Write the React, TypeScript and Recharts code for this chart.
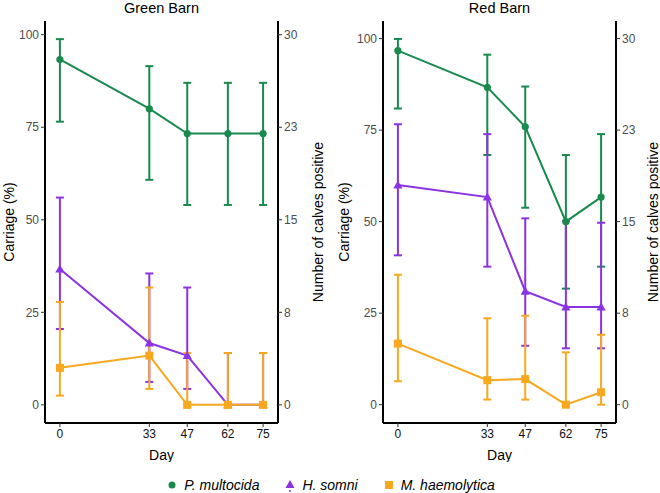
import React from 'react';
import { LineChart, Line, XAxis, YAxis, ErrorBar } from 'recharts';

const days = [0, 33, 47, 62, 75];

// Green Barn
const greenPm = [93.3, 80.0, 73.3, 73.3, 73.3];
const greenPmLow = [76.5, 60.8, 54.0, 54.0, 54.0];
const greenPmHigh = [98.8, 91.5, 87.0, 87.0, 87.0];
const greenHs = [36.7, 16.7, 13.3, 0, 0];
const greenHsLow = [20.5, 6.2, 4.3, 0, 0];
const greenHsHigh = [56.0, 35.5, 31.7, 14.0, 14.0];
const greenMh = [10.0, 13.3, 0, 0, 0];
const greenMhLow = [2.5, 4.3, 0, 0, 0];
const greenMhHigh = [27.8, 31.7, 14.0, 14.0, 14.0];

// Red Barn
const redPm = [96.7, 86.7, 75.9, 50.0, 56.7];
const redPmLow = [80.9, 68.2, 53.8, 31.7, 37.7];
const redPmHigh = [99.9, 95.6, 86.9, 68.2, 73.9];
const redHs = [60.0, 56.7, 31.0, 26.7, 26.7];
const redHsLow = [40.8, 37.7, 16.1, 15.4, 15.4];
const redHsHigh = [76.6, 73.9, 50.9, 50.1, 49.7];
const redMh = [16.7, 6.7, 7.0, 0, 3.4];
const redMhLow = [6.4, 1.4, 1.4, 0, 0];
const redMhHigh = [35.5, 23.6, 24.3, 14.3, 19.1];

const leftTicks = [0, 25, 50, 75, 100];
const COUNT_FACTOR = 0.3;

const GREEN = '#178a4c';
const PURPLE = '#8b32e3';
const ORANGE = '#f8a81e';
const FONT = '"Liberation Sans", Arial, sans-serif';

const buildRows = (
  pm: number[], pmLo: number[], pmHi: number[],
  hs: number[], hsLo: number[], hsHi: number[],
  mh: number[], mhLo: number[], mhHi: number[],
) =>
  days.map((d, i) => ({
    day: d,
    pm: pm[i],
    pmErr: [pm[i] - pmLo[i], pmHi[i] - pm[i]],
    hs: hs[i],
    hsErr: [hs[i] - hsLo[i], hsHi[i] - hs[i]],
    mh: mh[i],
    mhErr: [mh[i] - mhLo[i], mhHi[i] - mh[i]],
  }));

const greenRows = buildRows(greenPm, greenPmLow, greenPmHigh, greenHs, greenHsLow, greenHsHigh, greenMh, greenMhLow, greenMhHigh);
const redRows = buildRows(redPm, redPmLow, redPmHigh, redHs, redHsLow, redHsHigh, redMh, redMhLow, redMhHigh);

const circleDot = (props: any) => {
  const { cx, cy, index } = props;
  return <circle key={`c-${index}`} cx={cx} cy={cy} r={3.6} fill={GREEN} />;
};
const triDot = (props: any) => {
  const { cx, cy, index } = props;
  const s = 4.6;
  return (
    <path
      key={`t-${index}`}
      d={`M${cx},${cy - s}L${cx + s},${cy + s * 0.75}L${cx - s},${cy + s * 0.75}Z`}
      fill={PURPLE}
    />
  );
};
const squareDot = (props: any) => {
  const { cx, cy, index } = props;
  return <rect key={`s-${index}`} x={cx - 4} y={cy - 4} width={8} height={8} fill={ORANGE} />;
};

const rotLabel = (text: string, x: number) => (props: any) => {
  const vb = props.viewBox || {};
  const cy = vb.y + vb.height / 2;
  return (
    <text
      x={x}
      y={cy}
      transform={`rotate(-90, ${x}, ${cy})`}
      textAnchor="middle"
      dominantBaseline="central"
      fill="#000"
      fontSize={14}
      fontFamily={FONT}
    >
      {text}
    </text>
  );
};

interface PanelProps {
  title: string;
  rows: any[];
  domain: [number, number];
  leftW: number;
  rightW: number;
  leftLabelX: number;
  rightLabelX: number;
  left: number;
}

const Panel: React.FC<PanelProps> = ({ title, rows, domain, leftW, rightW, leftLabelX, rightLabelX, left }) => {
  const plotCenter = leftW + (330 - leftW - rightW) / 2;
  const tickStyle = { fill: '#4d4d4d', fontSize: 12, fontFamily: FONT };
  return (
    <div style={{ position: 'absolute', left, top: 0, width: 330, height: 462 }}>
      <div
        style={{
          position: 'absolute',
          top: 0,
          left: plotCenter - 80,
          width: 160,
          textAlign: 'center',
          fontFamily: FONT,
          fontSize: 14.5,
          lineHeight: '16px',
          color: '#000',
        }}
      >
        {title}
      </div>
      <LineChart
        width={330}
        height={462}
        data={rows}
        margin={{ top: 21, right: 0, bottom: 0, left: 0 }}
        style={{ overflow: 'visible' }}
      >
        <XAxis
          dataKey="day"
          type="number"
          domain={[-5.5, 80.5]}
          ticks={days}
          allowDataOverflow
          height={39}
          axisLine={{ stroke: '#000', strokeWidth: 2 }}
          tickLine={{ stroke: '#333' }}
          tickSize={4}
          tick={{ ...tickStyle, fill: '#111' }}
          label={{ value: 'Day', position: 'insideBottom', offset: 2, fill: '#000', fontSize: 14, fontFamily: FONT }}
        />
        <YAxis
          yAxisId="l"
          type="number"
          domain={domain}
          ticks={leftTicks}
          allowDataOverflow
          width={leftW}
          axisLine={{ stroke: '#000', strokeWidth: 2 }}
          tickLine={{ stroke: '#333' }}
          tickSize={4}
          tick={tickStyle}
          label={{ content: rotLabel('Carriage (%)', leftLabelX) }}
        />
        <YAxis
          yAxisId="r"
          orientation="right"
          type="number"
          domain={domain}
          ticks={leftTicks}
          allowDataOverflow
          width={rightW}
          axisLine={{ stroke: '#000', strokeWidth: 2 }}
          tickLine={{ stroke: '#333' }}
          tickSize={4}
          tick={tickStyle}
          tickFormatter={(v: number) => String(Math.round(v * COUNT_FACTOR))}
          label={{ content: rotLabel('Number of calves positive', rightLabelX) }}
        />
        <Line yAxisId="l" dataKey="pm" stroke={GREEN} strokeWidth={2} dot={circleDot} isAnimationActive={false}>
          <ErrorBar dataKey="pmErr" width={4} stroke={GREEN} strokeWidth={2} isAnimationActive={false} />
        </Line>
        <Line yAxisId="l" dataKey="hs" stroke={PURPLE} strokeWidth={2} dot={triDot} isAnimationActive={false}>
          <ErrorBar dataKey="hsErr" width={4} stroke={PURPLE} strokeWidth={2} isAnimationActive={false} />
        </Line>
        <Line yAxisId="l" dataKey="mh" stroke={ORANGE} strokeWidth={2} dot={squareDot} isAnimationActive={false}>
          <ErrorBar dataKey="mhErr" width={4} stroke={ORANGE} strokeWidth={2} isAnimationActive={false} />
        </Line>
      </LineChart>
    </div>
  );
};

const legendItems = [
  { name: 'P. multocida', color: GREEN, shape: 'circle' },
  { name: 'H. somni', color: PURPLE, shape: 'triangle' },
  { name: 'M. haemolytica', color: ORANGE, shape: 'square' },
];

const LegendKey: React.FC<{ shape: string; color: string }> = ({ shape, color }) => (
  <svg width={14} height={14} style={{ display: 'block' }}>
    {shape === 'circle' && <circle cx={7} cy={7} r={3.5} fill={color} />}
    {shape === 'triangle' && (
      <>
        <path d="M7,2L11.5,10L2.5,10Z" fill={color} />
        <line x1={6} y1={13} x2={8} y2={13} stroke={color} strokeWidth={1.5} />
      </>
    )}
    {shape === 'square' && <rect x={3} y={3} width={8} height={8} fill={color} />}
  </svg>
);

export default function App() {
  return (
    <div style={{ position: 'absolute', left: 0, top: 0, width: 660, height: 493, background: '#fff', overflow: 'hidden' }}>
      <Panel title="Green Barn" rows={greenRows} domain={[-4.9, 103.7]} leftW={45} rightW={52} leftLabelX={9} rightLabelX={318} left={0} />
      <Panel title="Red Barn" rows={redRows} domain={[-5, 104.8]} leftW={53} rightW={44} leftLabelX={14} rightLabelX={323} left={330} />
      <div
        style={{
          position: 'absolute',
          top: 476,
          left: 0,
          width: 660,
          display: 'flex',
          justifyContent: 'center',
          alignItems: 'center',
          fontFamily: FONT,
          fontSize: 14,
          lineHeight: '18px',
          fontStyle: 'italic',
        }}
      >
        {legendItems.map((it) => (
          <div key={it.name} style={{ display: 'flex', alignItems: 'center', margin: '0 12px' }}>
            <LegendKey shape={it.shape} color={it.color} />
            <span style={{ marginLeft: 5 }}>{it.name}</span>
          </div>
        ))}
      </div>
    </div>
  );
}
